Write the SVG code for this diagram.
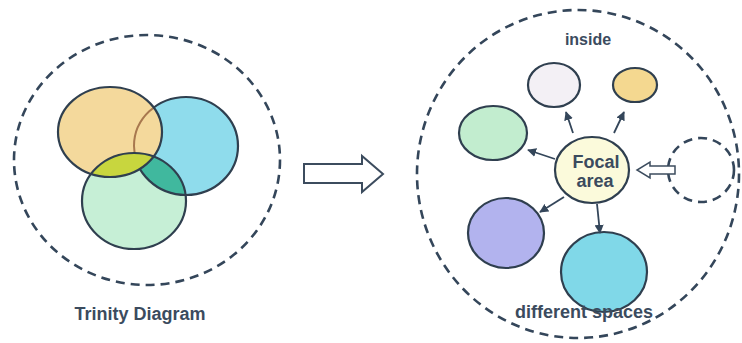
<svg xmlns="http://www.w3.org/2000/svg" width="742" height="343" viewBox="0 0 742 343">
<style>
.dash{fill:none;stroke:#34465a;stroke-width:2.6;stroke-dasharray:9 6}
.ol{stroke:#2f3f4f;stroke-width:2.2}
.lbl{font-family:"Liberation Sans",Arial,sans-serif;font-weight:bold;fill:#3b4b5e;text-anchor:middle}
.con{stroke:#34465a;stroke-width:1.8;fill:none}
</style>
<defs>
<marker id="ah" viewBox="0 0 10 10" refX="9" refY="5" markerWidth="9" markerHeight="9" orient="auto" markerUnits="userSpaceOnUse">
<path d="M0,0 L10,5 L0,10 z" fill="#34465a"/>
</marker>
<clipPath id="cOr"><ellipse cx="110" cy="132" rx="52" ry="45"/></clipPath>
<clipPath id="cGr"><ellipse cx="134" cy="201" rx="52" ry="48"/></clipPath>
<mask id="mNotOr"><rect width="742" height="343" fill="#fff"/><ellipse cx="110" cy="132" rx="52" ry="45" fill="#000"/></mask>
</defs>
<rect width="742" height="343" fill="#fff"/>

<g id="trinity">
<ellipse class="dash" cx="147" cy="160" rx="133" ry="125"/>
<ellipse id="blue" cx="186" cy="146" rx="52" ry="49" fill="#8fdcec"/>
<ellipse id="orange" cx="110" cy="132" rx="52" ry="45" fill="#f4d99c"/>
<ellipse cx="186" cy="146" rx="52" ry="49" fill="none" stroke="#a8784e" stroke-width="2" clip-path="url(#cOr)"/>
<ellipse id="green" cx="134" cy="201" rx="52" ry="48" fill="#c6efd6"/>
<g clip-path="url(#cGr)">
<ellipse cx="110" cy="132" rx="52" ry="45" fill="#c8d63e"/>
<ellipse cx="186" cy="146" rx="52" ry="49" fill="#40b89e" mask="url(#mNotOr)"/>
</g>
<ellipse class="ol" cx="134" cy="201" rx="52" ry="48" fill="none"/>
<ellipse class="ol" cx="110" cy="132" rx="52" ry="45" fill="none"/>
<ellipse class="ol" cx="186" cy="146" rx="52" ry="49" fill="none" mask="url(#mNotOr)"/>
<text class="lbl" x="140" y="320" font-size="18">Trinity Diagram</text>
</g>

<g id="transform-arrow">
<polygon points="304,164 362,164 362,156 383,174 362,192 362,183 304,183" fill="#fff" stroke="#3c4c5e" stroke-width="2" stroke-linejoin="miter"/>
</g>

<g id="spaces">
<ellipse class="dash" cx="578" cy="174" rx="161" ry="164"/>
<text class="lbl" x="588" y="45" font-size="16">inside</text>
</g>
<g id="n-white"><ellipse class="ol" cx="554" cy="85" rx="26" ry="22" fill="#f3f0f5"/></g>
<g id="n-orange"><ellipse class="ol" cx="635" cy="85" rx="22" ry="17" fill="#f4d890"/></g>
<g id="n-green"><ellipse class="ol" cx="493" cy="133" rx="34" ry="27" fill="#c2edcf"/></g>
<g id="n-purple"><ellipse class="ol" cx="506" cy="233" rx="38" ry="35" fill="#b2b3ee"/></g>
<g id="n-cyan"><ellipse class="ol" cx="604" cy="272" rx="43" ry="40" fill="#80d8e8"/></g>
<g id="n-dashed"><ellipse class="dash" cx="701" cy="170" rx="33" ry="32"/></g>
<g id="n-focal">
<ellipse class="ol" cx="592" cy="170" rx="37" ry="33" fill="#fbfadb"/>
<text class="lbl" x="596" y="168" font-size="18">Focal</text>
<text class="lbl" x="595" y="187" font-size="18">area</text>
</g>
<text class="lbl" x="584" y="318" font-size="18">different spaces</text>

<g id="connectors">
<line class="con" x1="573" y1="133" x2="566" y2="112" marker-end="url(#ah)"/>
<line class="con" x1="614" y1="133" x2="624" y2="112" marker-end="url(#ah)"/>
<line class="con" x1="555" y1="159" x2="528" y2="150" marker-end="url(#ah)"/>
<line class="con" x1="564" y1="197" x2="540" y2="212" marker-end="url(#ah)"/>
<line class="con" x1="597" y1="204" x2="600" y2="233" marker-end="url(#ah)"/>
<polygon points="675,166 650,166 650,162 637,170 650,178 650,174 675,174" fill="#fff" stroke="#3c4c5e" stroke-width="1.5"/>
</g>
</svg>
